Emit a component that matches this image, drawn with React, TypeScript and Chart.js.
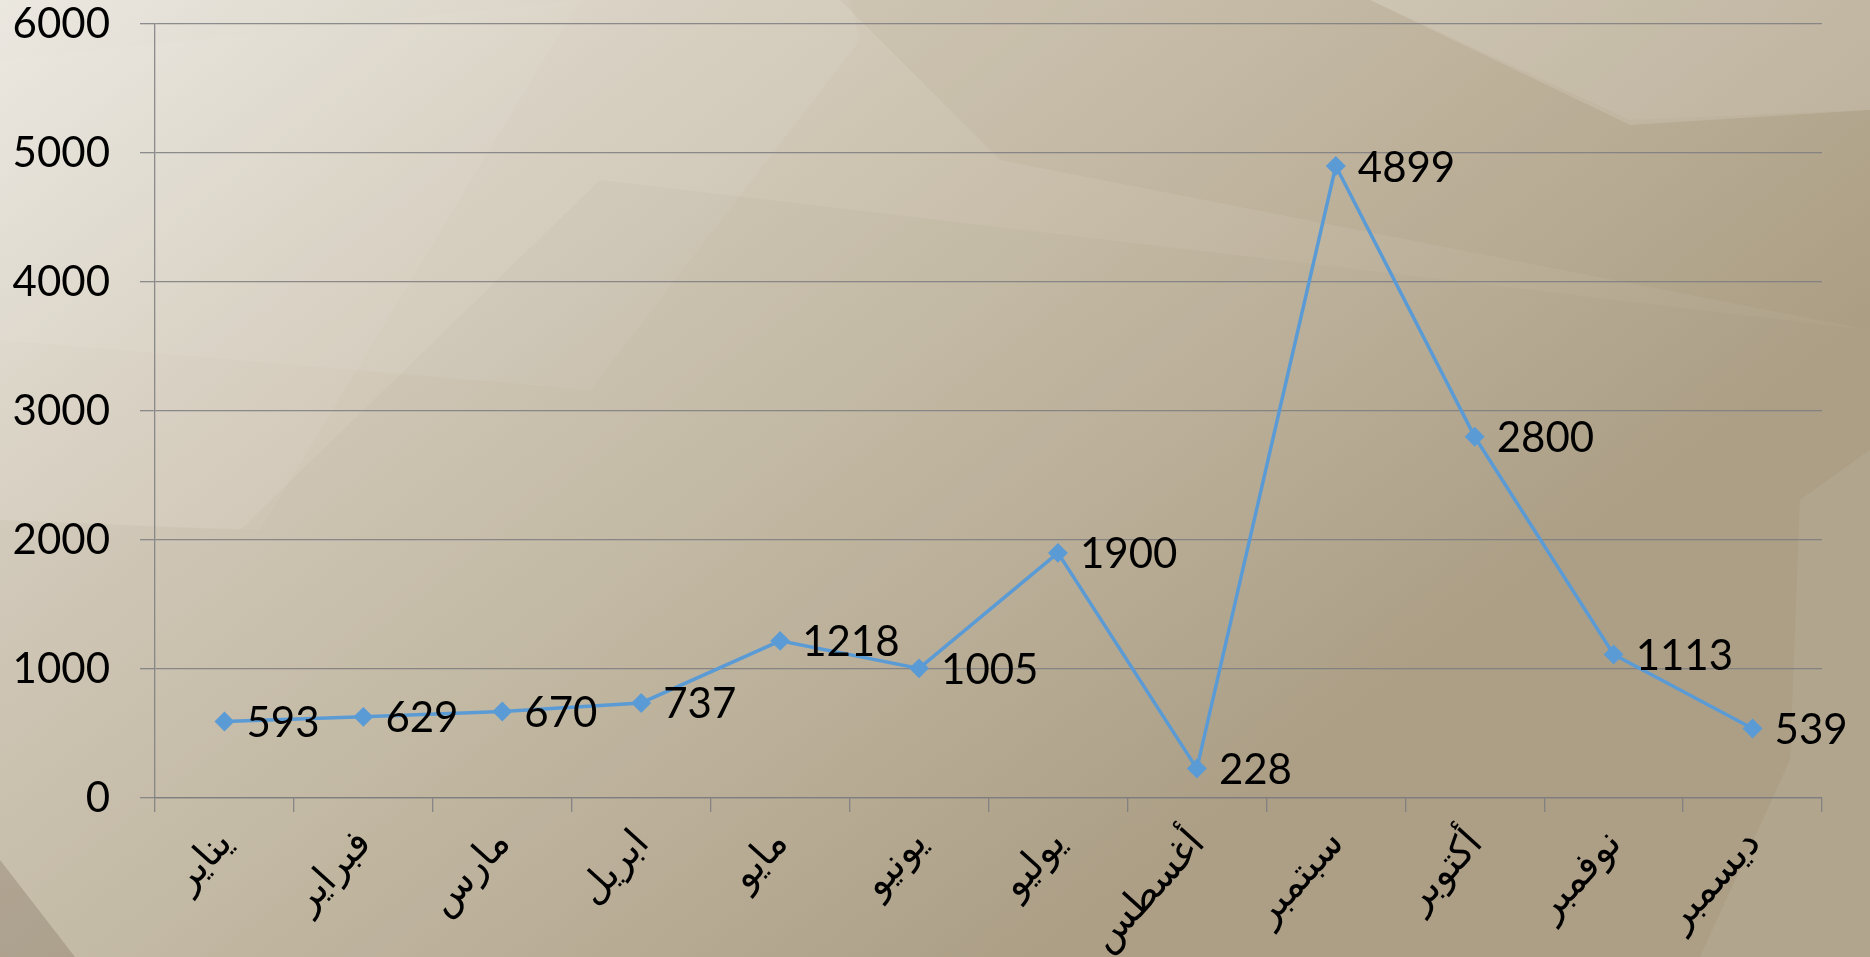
import React, { useEffect, useRef } from "react";
import { Chart, registerables } from "chart.js";

Chart.register(...registerables);

const months = ["يناير", "فبراير", "مارس", "ابريل", "مايو", "يونيو", "يوليو", "أغسطس", "سبتمبر", "أكتوبر", "نوفمبر", "ديسمبر"];
const values = [593, 629, 670, 737, 1218, 1005, 1900, 228, 4899, 2800, 1113, 539];
const yTicks = [0, 1000, 2000, 3000, 4000, 5000, 6000];

const LINE_COLOR = "#5B9BD5";
const GRID_COLOR = "rgba(125,125,128,0.85)";
const FONT = "Lato, 'DejaVu Sans', sans-serif";

const backgroundPlugin = {
  id: "bgTexture",
  beforeDraw(chart: any) {
    const { ctx, width, height } = chart;
    ctx.save();
    const g = ctx.createLinearGradient(0, 0, width * 0.45, height * 1.15);
    g.addColorStop(0, "#EAE7DF");
    g.addColorStop(0.3, "#D6CEBF");
    g.addColorStop(0.65, "#C4B9A4");
    g.addColorStop(1, "#AFA289");
    ctx.fillStyle = g;
    ctx.fillRect(0, 0, width, height);
    const poly = (pts: number[][], color: string) => {
      ctx.beginPath();
      ctx.moveTo(pts[0][0], pts[0][1]);
      for (let i = 1; i < pts.length; i++) ctx.lineTo(pts[i][0], pts[i][1]);
      ctx.closePath();
      ctx.fillStyle = color;
      ctx.fill();
    };
    poly([[0, 0], [850, 0], [860, 40], [590, 390], [0, 340]], "rgba(255,255,255,0.06)");
    poly([[0, 60], [580, 0], [260, 530], [0, 520]], "rgba(255,255,255,0.05)");
    poly([[840, 0], [1370, 0], [1630, 120], [1870, 110], [1870, 330], [1000, 160]], "rgba(110,90,60,0.05)");
    poly([[1370, 0], [1870, 0], [1870, 110], [1630, 125]], "rgba(255,255,255,0.12)");
    poly([[0, 520], [240, 530], [600, 180], [1870, 330], [1870, 957], [0, 957]], "rgba(110,95,65,0.03)");
    poly([[0, 860], [0, 957], [75, 957]], "rgba(90,75,55,0.22)");
    poly([[1800, 500], [1870, 450], [1870, 957], [1700, 957], [1790, 760]], "rgba(255,255,255,0.07)");
    ctx.restore();
  },
};

const dataLabelPlugin = {
  id: "valueLabels",
  afterDatasetsDraw(chart: any) {
    const { ctx } = chart;
    const meta = chart.getDatasetMeta(0);
    ctx.save();
    ctx.font = `42px ${FONT}`;
    ctx.fillStyle = "#000";
    ctx.textAlign = "left";
    ctx.textBaseline = "middle";
    meta.data.forEach((pt: any, i: number) => {
      ctx.fillText(String(values[i]), pt.x + 22, pt.y + 2);
    });
    ctx.restore();
  },
};

export default function App() {
  const ref = useRef<HTMLCanvasElement | null>(null);
  useEffect(() => {
    document.body.style.margin = "0";
    const chart = new Chart(ref.current!, {
      type: "line",
      data: {
        labels: months,
        datasets: [
          {
            data: values,
            borderColor: LINE_COLOR,
            backgroundColor: LINE_COLOR,
            borderWidth: 3.5,
            pointStyle: "rectRot",
            pointRadius: 7.5,
            pointHoverRadius: 7.5,
            tension: 0,
          },
        ],
      },
      options: {
        animation: false,
        responsive: true,
        maintainAspectRatio: false,
        layout: { padding: { top: 24, right: 48, left: 0, bottom: 0 } },
        plugins: { legend: { display: false }, tooltip: { enabled: false } },
        scales: {
          x: {
            offset: true,
            grid: {
              offset: true,
              drawOnChartArea: false,
              drawTicks: true,
              tickLength: 14,
              color: GRID_COLOR,
              lineWidth: 1.3,
            },
            border: { display: true, color: GRID_COLOR, width: 1.3 },
            ticks: {
              color: "#000",
              font: { family: FONT, size: 39 },
              minRotation: 48,
              maxRotation: 48,
              autoSkip: false,
              padding: 8,
            },
            afterFit(scale: any) {
              scale.height = 159;
              scale.paddingLeft = 0;
              scale.paddingRight = 0;
            },
          },
          y: {
            min: 0,
            max: 6000,
            afterBuildTicks(scale: any) {
              scale.ticks = yTicks.map((v) => ({ value: v }));
            },
            grid: { color: GRID_COLOR, lineWidth: 1.3, tickLength: 15 },
            border: { display: true, color: GRID_COLOR, width: 1.3 },
            ticks: {
              color: "#000",
              font: { family: FONT, size: 42 },
              padding: 30,
              callback: (v: any) => String(v),
            },
            afterFit(scale: any) {
              scale.width = 155;
              scale.paddingTop = 0;
              scale.paddingBottom = 0;
            },
          },
        },
      },
      plugins: [backgroundPlugin, dataLabelPlugin],
    });
    return () => chart.destroy();
  }, []);
  return (
    <div style={{ position: "fixed", left: 0, top: 0, width: "1870px", height: "957px" }}>
      <canvas ref={ref} />
    </div>
  );
}
